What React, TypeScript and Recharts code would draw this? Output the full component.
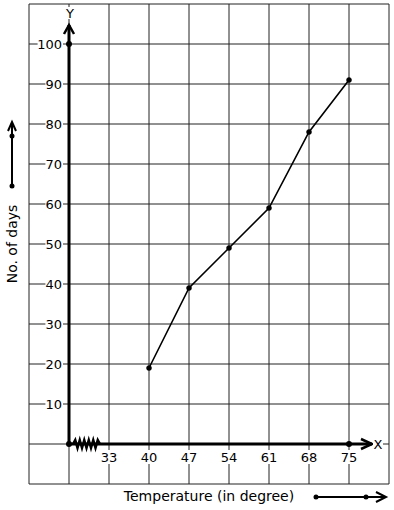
import React from 'react';
import {
  LineChart,
  Line,
  XAxis,
  YAxis,
  CartesianGrid,
  ReferenceLine,
  ReferenceDot,
  ReferenceArea,
} from 'recharts';

// ---- data ----
const xTickLabels = ['33', '40', '47', '54', '61', '68', '75']; // axis positions 1..7 (0 = origin, broken scale)
const temperatures = [40, 47, 54, 61, 68, 75];
const days = [19, 39, 49, 59, 78, 91];
const yTickLabels = [10, 20, 30, 40, 50, 60, 70, 80, 90, 100];
const xGridTicks = [-1, 0, 1, 2, 3, 4, 5, 6, 7, 8];
const yGridTicks = [-10, 0, 10, 20, 30, 40, 50, 60, 70, 80, 90, 100, 110];
const axisDots = [
  { x: 0, y: 0 },
  { x: 0, y: 100 },
  { x: 7, y: 0 },
];
const yArrowTip = 104.75;
const xArrowTip = 7.575;

const posOf = (t: number) => xTickLabels.indexOf(String(t)) + 1;
const data = temperatures.map((t, i) => ({ pos: posOf(t), days: days[i] }));

const FONT = '"DejaVu Sans", sans-serif';

const XTick = (props: any) => {
  const { x, y, payload } = props;
  const v = payload.value;
  if (v < 1 || v > xTickLabels.length) return null;
  const label = xTickLabels[v - 1];
  const w = label.length * 8 + 2;
  return (
    <g>
      <rect x={x - w / 2} y={y - 34} width={w} height={14} fill="#fff" />
      <text x={x} y={y - 27} textAnchor="middle" dominantBaseline="central" fontSize={13} fontFamily={FONT} fill="#000">
        {label}
      </text>
    </g>
  );
};

const YTick = (props: any) => {
  const { x, y, payload } = props;
  const v = payload.value;
  if (!yTickLabels.includes(v)) return null;
  const label = String(v);
  const w = label.length * 7.8 + 2;
  return (
    <g>
      <rect x={x + 34 - w} y={y - 7} width={w} height={14} fill="#fff" />
      <text x={x + 33} y={y} textAnchor="end" dominantBaseline="central" fontSize={13} fontFamily={FONT} fill="#000">
        {label}
      </text>
    </g>
  );
};

const YLabel = (props: any) => {
  const vb = props.viewBox || {};
  const cx = vb.x + vb.width - 17;
  const cy = vb.y + vb.height / 2;
  return (
    <g>
      <text
        x={cx}
        y={cy}
        transform={`rotate(-90 ${cx} ${cy})`}
        textAnchor="middle"
        dominantBaseline="central"
        fontSize={14}
        fontFamily={FONT}
        fill="#000"
      >
        No. of days
      </text>
      <line x1={cx} y1={cy - 58} x2={cx} y2={cy - 121} stroke="#000" strokeWidth={2} />
      <circle cx={cx} cy={cy - 58} r={2.5} fill="#000" />
      <circle cx={cx} cy={cy - 108} r={2.5} fill="#000" />
      <path d={`M ${cx - 4} ${cy - 113} L ${cx} ${cy - 122} L ${cx + 4} ${cy - 113}`} stroke="#000" strokeWidth={2} fill="none" />
    </g>
  );
};

const XLabel = (props: any) => {
  const vb = props.viewBox || {};
  const cx = vb.x + vb.width / 2;
  const cy = vb.y + 12;
  return (
    <g>
      <text x={cx} y={cy} textAnchor="middle" dominantBaseline="central" fontSize={14} fontFamily={FONT} fill="#000">
        Temperature (in degree)
      </text>
      <line x1={cx + 107} y1={cy + 1} x2={cx + 176} y2={cy + 1} stroke="#000" strokeWidth={2} />
      <circle cx={cx + 107} cy={cy + 1} r={2.5} fill="#000" />
      <circle cx={cx + 157} cy={cy + 1} r={2.5} fill="#000" />
      <path d={`M ${cx + 167} ${cy - 4} L ${cx + 177} ${cy + 1} L ${cx + 167} ${cy + 6}`} stroke="#000" strokeWidth={2} fill="none" />
    </g>
  );
};

const YArrow = (props: any) => {
  const { cx, cy } = props;
  return (
    <g>
      <path d={`M ${cx - 5} ${cy + 9} L ${cx} ${cy} L ${cx + 5} ${cy + 9}`} stroke="#000" strokeWidth={2.5} fill="none" />
      <rect x={cx - 5} y={cy - 18} width={10} height={12} fill="#fff" />
      <text x={cx + 1} y={cy - 12} textAnchor="middle" dominantBaseline="central" fontSize={13} fontFamily={FONT} fill="#000">
        Y
      </text>
    </g>
  );
};

const XArrow = (props: any) => {
  const { cx, cy } = props;
  return (
    <g>
      <path d={`M ${cx - 11} ${cy - 5} L ${cx} ${cy} L ${cx - 11} ${cy + 5}`} stroke="#000" strokeWidth={2.5} fill="none" />
      <rect x={cx + 1} y={cy - 6} width={10} height={12} fill="#fff" />
      <text x={cx + 6} y={cy} textAnchor="middle" dominantBaseline="central" fontSize={13} fontFamily={FONT} fill="#000">
        X
      </text>
    </g>
  );
};

const Zigzag = (props: any) => {
  const { x, y, width, height } = props;
  const n = 12;
  let d = `M ${x} ${y + height / 2}`;
  for (let i = 1; i <= n; i++) {
    const px = x + (width * i) / n;
    const py = i === n ? y + height / 2 : i % 2 === 1 ? y : y + height;
    d += ` L ${px} ${py}`;
  }
  return <path d={d} stroke="#000" strokeWidth={2.5} fill="none" />;
};

const AxisDot = (props: any) => <circle cx={props.cx} cy={props.cy} r={3} fill="#000" />;

export default function App() {
  return (
    <div style={{ position: 'absolute', left: 0, top: 0, width: 394, height: 510, background: '#fff' }}>
      <LineChart width={394} height={510} data={data} margin={{ top: 4, right: 5, left: 28, bottom: 0 }}>
        <CartesianGrid stroke="#222" strokeWidth={1} />
        <XAxis
          dataKey="pos"
          type="number"
          domain={[-1, 8]}
          ticks={xGridTicks}
          interval={0}
          allowDataOverflow
          axisLine={false}
          tickLine={false}
          tickSize={0}
          tickMargin={0}
          height={26}
          tick={<XTick />}
          label={<XLabel />}
        />
        <YAxis
          type="number"
          domain={[-10, 110]}
          ticks={yGridTicks}
          interval={0}
          allowDataOverflow
          axisLine={false}
          tickLine={false}
          tickSize={0}
          tickMargin={0}
          width={1}
          tick={<YTick />}
          label={<YLabel />}
        />
        <ReferenceLine segment={[{ x: 0, y: 0 }, { x: 0, y: yArrowTip }]} stroke="#000" strokeWidth={3} ifOverflow="visible" />
        <ReferenceLine segment={[{ x: 0, y: 0 }, { x: xArrowTip, y: 0 }]} stroke="#000" strokeWidth={3} ifOverflow="visible" />
        <ReferenceArea x1={0.1} x2={0.775} y1={-1} y2={1} shape={<Zigzag />} ifOverflow="visible" />
        <ReferenceDot x={0} y={yArrowTip} shape={<YArrow />} ifOverflow="visible" />
        <ReferenceDot x={xArrowTip} y={0} shape={<XArrow />} ifOverflow="visible" />
        {axisDots.map((p, i) => (
          <ReferenceDot key={i} x={p.x} y={p.y} shape={<AxisDot />} ifOverflow="visible" />
        ))}
        <Line
          type="linear"
          dataKey="days"
          stroke="#000"
          strokeWidth={1.6}
          dot={{ r: 2.5, fill: '#000', stroke: '#000', strokeWidth: 0.5 }}
          isAnimationActive={false}
        />
      </LineChart>
    </div>
  );
}
